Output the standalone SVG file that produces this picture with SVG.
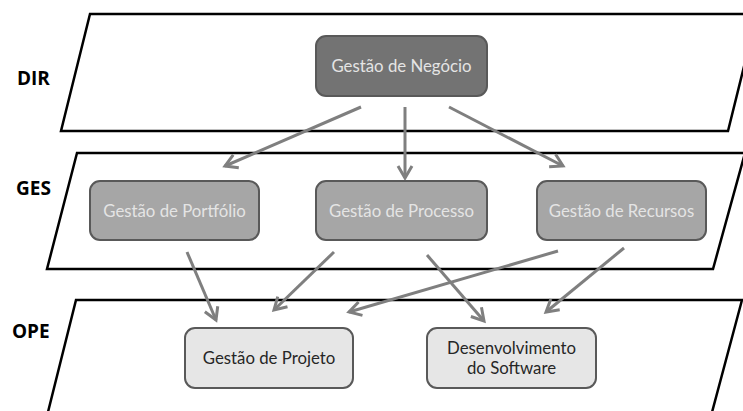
<svg xmlns="http://www.w3.org/2000/svg" width="743" height="411" viewBox="0 0 743 411">
<style>
.layer{fill:#fff;stroke:#000;stroke-width:2.5}
.lbl{font-family:"Open Sans","Liberation Sans",sans-serif;font-weight:bold;font-size:19px;fill:#000}
.n1 rect{fill:#737373;stroke:#595959;stroke-width:2}
.n2 rect{fill:#a6a6a6;stroke:#595959;stroke-width:2}
.n3 rect{fill:#e6e6e6;stroke:#595959;stroke-width:2}
.t{font-family:Lato,"Liberation Sans",sans-serif;font-size:16.8px;text-anchor:middle}
.n1 text,.n2 text{fill:#e4e4e4}
.n3 text{fill:#262626}
.c{stroke:#7f7f7f;stroke-width:3;fill:none;marker-end:url(#ah)}
</style>
<defs>
<marker id="ah" markerUnits="userSpaceOnUse" markerWidth="20" markerHeight="20" viewBox="-14 -10 16 20" refX="0" refY="0" orient="auto">
<path d="M-12,-7 L0,0 L-12,7" fill="none" stroke="#7f7f7f" stroke-width="3"/>
</marker>
</defs>
<g id="layers">
<polygon class="layer" points="90,14 757,14 728,131 61,131"/>
<polygon class="layer" points="77,153 745,153 713,269 47,269"/>
<polygon class="layer" points="76,300 742,300 711,416 47,416"/>
<text class="lbl" x="17" y="85">DIR</text>
<text class="lbl" x="16" y="195">GES</text>
<text class="lbl" x="12" y="338">OPE</text>
</g>
<g id="connectors">
<line class="c" x1="361" y1="107" x2="225" y2="166"/>
<line class="c" x1="405" y1="107" x2="405" y2="178"/>
<line class="c" x1="449" y1="107" x2="563" y2="166"/>
<line class="c" x1="187" y1="252" x2="216" y2="320"/>
<line class="c" x1="334" y1="252" x2="274" y2="310"/>
<line class="c" x1="558" y1="251" x2="349" y2="312"/>
<line class="c" x1="427" y1="255" x2="484" y2="321"/>
<line class="c" x1="624" y1="248" x2="546" y2="312"/>
</g>
<g id="negocio" class="n1"><rect x="316" y="36" width="171" height="60" rx="10"/><text class="t" x="401.5" y="72">Gestão de Negócio</text></g>
<g id="portfolio" class="n2"><rect x="90" y="181" width="169" height="59" rx="10"/><text class="t" x="174.5" y="217">Gestão de Portfólio</text></g>
<g id="processo" class="n2"><rect x="316" y="181" width="171" height="59" rx="10"/><text class="t" x="401.5" y="217">Gestão de Processo</text></g>
<g id="recursos" class="n2"><rect x="537" y="181" width="169" height="59" rx="10"/><text class="t" x="621.5" y="217">Gestão de Recursos</text></g>
<g id="projeto" class="n3"><rect x="185" y="328" width="168" height="60" rx="10"/><text class="t" x="269" y="364">Gestão de Projeto</text></g>
<g id="software" class="n3"><rect x="427" y="328" width="169" height="60" rx="10"/><text class="t" x="511.5" y="354">Desenvolvimento</text><text class="t" x="511.5" y="374">do Software</text></g>
</svg>
